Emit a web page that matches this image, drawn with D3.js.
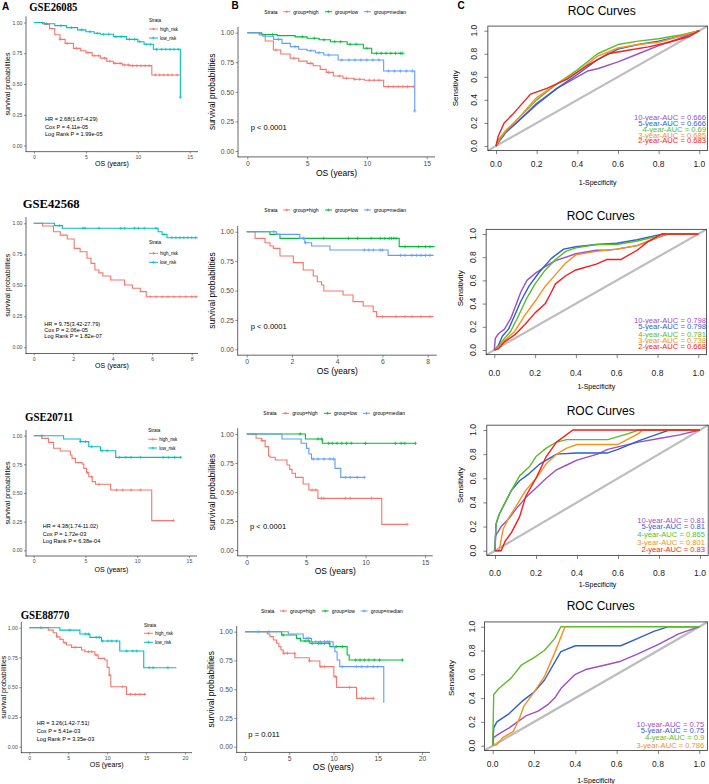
<!DOCTYPE html>
<html><head><meta charset="utf-8">
<script src="https://cdn.jsdelivr.net/npm/d3@7"></script>
<style>body{margin:0;background:#fff}svg{display:block}</style>
</head><body>
<svg id="c" width="709" height="784"></svg>
<script>
// ---------------- DATA ----------------
const datasets = ["GSE26085","GSE42568","GSE20711","GSE88770"];
const yTickVals = [0,0.25,0.5,0.75,1];
const rocTickVals = [0,0.2,0.4,0.6,0.8,1];
const xTicks26085 = [0,5,10,15];
const xTicks42568 = [0,2,4,6,8];
const xTicks20711 = [0,5,10,15];
const xTicks88770 = [0,5,10,15,20];
const riskLabels = ["high_risk","low_risk"];
const groupLabels = ["group=high","group=low","group=median"];
const hrTexts = [
 ["HR = 2.68(1.67-4.29)","Cox P = 4.11e-05","Log Rank P = 1.99e-05"],
 ["HR = 9.75(3.42-27.79)","Cox P = 2.06e-05","Log Rank P = 1.82e-07"],
 ["HR = 4.38(1.74-11.02)","Cox P = 1.72e-03","Log Rank P = 6.38e-04"],
 ["HR = 3.26(1.42-7.51)","Cox P = 5.41e-03","Log Rank P = 3.35e-03"]];
const pTexts = ["p < 0.0001","p < 0.0001","p < 0.0001","p = 0.011"];
const aucLabels = [
 ["10-year-AUC = 0.666","5-year-AUC = 0.666","4-year-AUC = 0.69","3-year-AUC = 0.685","2-year-AUC = 0.683"],
 ["10-year-AUC = 0.798","5-year-AUC = 0.798","4-year-AUC = 0.781","3-year-AUC = 0.738","2-year-AUC = 0.668"],
 ["10-year-AUC = 0.81","5-year-AUC = 0.81","4-year-AUC = 0.865","3-year-AUC = 0.801","2-year-AUC = 0.83"],
 ["10-year-AUC = 0.75","5-year-AUC = 0.75","4-year-AUC = 0.9","3-year-AUC = 0.786"]];

// KM step events [time, survival after event]; censor times
const r26085_high = [[1.0,0.985],[1.5,0.95],[2.0,0.9],[2.5,0.863],[3.0,0.83],[3.8,0.79],[4.5,0.77],[5.0,0.755],[5.6,0.73],[6.4,0.71],[7.0,0.685],[7.65,0.668],[8.5,0.655],[9.26,0.649],[11.35,0.573],[14.0,0.573]];
const r26085_high_c = [2.5,3.2,4.1,5.2,5.8,6.2,6.8,7.3,7.8,8.3,8.7,9.1,9.5,9.9,10.3,10.7,11.1,11.7,12.1,12.5,12.9,13.3,13.8];
const r26085_low = [[0.8,0.99],[2.0,0.975],[3.15,0.958],[4.2,0.94],[5.0,0.925],[5.8,0.912],[6.4,0.904],[7.65,0.885],[8.9,0.863],[10.0,0.844],[10.6,0.823],[11.5,0.782],[14.1,0.392]];
const r26085_low_c = [1.2,2.6,3.6,4.6,5.4,6.1,6.7,7.2,7.9,8.4,9.2,9.7,10.2,10.8,11.2,11.8,12.3,12.7,13.1,13.5,13.9,14.1];
const g26085_high = [[1.0,0.98],[1.5,0.93],[2.18,0.854],[2.8,0.82],[3.58,0.784],[4.3,0.76],[5.0,0.741],[5.5,0.72],[6.1,0.69],[6.6,0.665],[7.2,0.634],[8.0,0.615],[8.9,0.606],[9.8,0.598],[11.4,0.544],[13.9,0.544]];
const g26085_high_c = [2.4,3.9,5.3,6.8,7.7,8.3,9.0,9.4,10.2,10.6,11.0,11.8,12.2,12.6,13.0,13.4,13.9];
const g26085_low = [[1.2,0.985],[2.5,0.975],[4.0,0.965],[5.0,0.953],[6.0,0.94],[6.95,0.924],[8.35,0.902],[9.7,0.868],[10.4,0.826],[13.0,0.826]];
const g26085_low_c = [2.1,4.6,5.6,6.4,7.3,7.8,8.6,9.1,10.0,10.8,11.2,11.6,12.0,12.4,12.8,13.0];
const g26085_med = [[1.0,0.99],[1.3,0.97],[2.2,0.944],[2.9,0.91],[3.6,0.882],[4.3,0.86],[5.0,0.848],[5.7,0.83],[6.4,0.811],[7.6,0.769],[11.4,0.676],[14.0,0.338]];
const g26085_med_c = [2.6,4.0,5.3,6.0,6.8,7.9,8.5,9.0,9.5,10.0,10.5,11.0,11.8,12.3,12.8,13.3,13.8,14.0];

const r42568_high = [[0.45,0.978],[1.0,0.932],[1.35,0.905],[1.7,0.873],[2.05,0.798],[2.35,0.771],[2.7,0.718],[2.9,0.677],[3.1,0.623],[3.3,0.6],[3.5,0.575],[3.9,0.543],[4.6,0.502],[5.0,0.476],[5.4,0.449],[5.7,0.408],[8.3,0.408]];
const r42568_high_c = [5.9,6.2,6.5,6.8,7.1,7.4,7.7,8.0,8.2];
const r42568_low = [[1.05,0.981],[1.45,0.96],[6.3,0.932],[6.5,0.91],[6.75,0.884],[8.3,0.884]];
const r42568_low_c = [1.3,2.5,2.6,3.3,4.4,4.6,5.1,5.3,5.6,6.2,6.6,7.0,7.2,7.4,7.6,7.8,8.0,8.2];
const g42568_high = [[0.37,0.943],[0.81,0.906],[1.03,0.878],[1.18,0.858],[1.47,0.793],[2.06,0.737],[2.5,0.674],[2.94,0.623],[3.12,0.575],[3.31,0.547],[3.41,0.496],[4.26,0.462],[4.7,0.405],[5.15,0.368],[5.59,0.32],[5.74,0.278],[8.26,0.278]];
const g42568_high_c = [6.0,6.6,7.0,7.3,7.7,8.1];
const g42568_low = [[1.03,0.977],[1.47,0.943],[6.74,0.873],[8.3,0.873]];
const g42568_low_c = [2.5,3.4,4.5,4.9,5.5,5.9,6.1,6.3,6.4,6.5,6.6,7.0,7.6,7.9,8.1];
const g42568_med = [[1.32,0.977],[2.35,0.943],[2.57,0.906],[2.87,0.878],[3.68,0.844],[6.25,0.799],[8.26,0.799]];
const g42568_med_c = [1.2,2.6,5.2,5.4,5.6,5.9,6.0,6.8,7.0,7.3,7.5,7.7,7.9,8.1];

const r20711_high = [[0.78,0.977],[1.43,0.942],[1.92,0.89],[2.56,0.866],[3.54,0.831],[3.7,0.802],[4.03,0.765],[4.68,0.753],[4.84,0.715],[5.1,0.677],[5.32,0.642],[5.65,0.599],[5.97,0.576],[7.43,0.526],[11.4,0.259],[13.5,0.259]];
const r20711_high_c = [5.2,5.6,6.3,8.0,8.6,9.4,10.3,13.5];
const r20711_low = [[2.89,0.971],[4.5,0.948],[5.32,0.904],[6.46,0.869],[7.92,0.811],[14.25,0.811]];
const r20711_low_c = [0.8,4.5,5.0,5.6,6.6,7.1,8.3,8.9,9.4,10.3,12.5,13.0,13.6,14.2];
const g20711_high = [[0.79,0.963],[1.27,0.943],[1.55,0.891],[1.84,0.81],[1.98,0.799],[2.4,0.776],[3.39,0.733],[3.62,0.695],[3.81,0.661],[4.1,0.626],[4.75,0.569],[5.23,0.517],[5.99,0.445],[11.36,0.221],[13.5,0.221]];
const g20711_high_c = [1.3,5.5,5.8,6.3,6.5,8.3,8.7,10.5,13.5];
const g20711_low = [[4.94,0.957],[6.36,0.92],[14.2,0.92]];
const g20711_low_c = [4.5,6.0,6.3,6.9,7.2,7.6,8.0,8.4,8.8,10.0,12.5,13.0,13.3,14.2];
const g20711_med = [[2.97,0.957],[4.58,0.92],[5.03,0.876],[5.23,0.828],[5.45,0.784],[7.43,0.704],[7.91,0.626],[9.9,0.626]];
const g20711_med_c = [5.6,6.0,6.5,7.0,7.3,8.3,8.7,9.3,9.9];

const r88770_high = [[2.44,0.98],[3.08,0.958],[3.5,0.924],[3.93,0.902],[4.36,0.874],[4.79,0.854],[5.43,0.835],[6.71,0.812],[7.14,0.798],[8.42,0.77],[8.85,0.742],[9.7,0.728],[10.0,0.667],[10.26,0.602],[10.47,0.504],[12.48,0.44],[15.0,0.44]];
const r88770_high_c = [3.6,4.6,5.9,7.6,8.0,8.6,10.3,12.0,13.0,13.6,14.2,14.8];
const r88770_low = [[3.93,0.98],[6.5,0.947],[7.78,0.919],[9.27,0.888],[11.62,0.804],[14.7,0.664],[18.9,0.664]];
const r88770_low_c = [1.5,5.2,7.2,7.6,8.6,9.0,9.4,10.1,10.6,11.2,12.5,13.3,13.8,15.4,15.9,17.8];
const g88770_high = [[2.52,0.98],[2.82,0.957],[3.2,0.928],[3.57,0.899],[3.83,0.87],[4.06,0.841],[4.32,0.812],[5.64,0.774],[7.26,0.745],[8.46,0.696],[10.04,0.609],[10.34,0.516],[12.6,0.42],[14.5,0.42]];
const g88770_high_c = [4.4,4.8,5.6,7.3,8.6,9.0,10.2,11.8,13.2,13.6,14.5];
const g88770_low = [[4.14,0.971],[5.83,0.942],[6.28,0.919],[7.33,0.899],[9.59,0.87],[11.54,0.797],[11.77,0.754],[17.86,0.754]];
const g88770_low_c = [4.3,6.8,7.2,7.6,8.3,8.6,9.0,9.5,10.3,11.0,12.5,13.0,13.5,14.0,14.6,15.2,17.8];
const g88770_med = [[4.89,0.98],[6.58,0.942],[7.52,0.913],[9.96,0.87],[10.15,0.826],[10.41,0.754],[10.71,0.696],[15.68,0.383]];
const g88770_med_c = [1.5,2.7,7.0,7.2,8.0,8.5,9.0,9.3,9.5,11.0,12.6,13.2,13.8,14.5,15.0];

// ROC curves [FPR, TPR]
const roc26085_10 = [[0,0],[0.01,0.05],[0.05,0.13],[0.1,0.2],[0.2,0.37],[0.3,0.5],[0.4,0.6],[0.45,0.65],[0.5,0.67],[0.6,0.73],[0.7,0.8],[0.8,0.87],[0.9,0.93],[1,1]];
const roc26085_5 = [[0,0],[0.02,0.05],[0.05,0.12],[0.1,0.2],[0.2,0.36],[0.3,0.5],[0.4,0.62],[0.5,0.75],[0.6,0.84],[0.7,0.88],[0.8,0.91],[0.9,0.95],[1,1]];
const roc26085_4 = [[0,0],[0.02,0.06],[0.05,0.13],[0.1,0.22],[0.2,0.4],[0.3,0.54],[0.4,0.66],[0.5,0.8],[0.6,0.88],[0.7,0.91],[0.8,0.93],[0.9,0.96],[1,1]];
const roc26085_3 = [[0,0],[0.02,0.07],[0.05,0.14],[0.1,0.22],[0.2,0.42],[0.3,0.54],[0.4,0.64],[0.5,0.78],[0.6,0.85],[0.7,0.88],[0.8,0.9],[0.9,0.95],[1,1]];
const roc26085_2 = [[0,0],[0.01,0.08],[0.04,0.2],[0.08,0.27],[0.12,0.35],[0.17,0.45],[0.25,0.5],[0.35,0.58],[0.45,0.7],[0.55,0.8],[0.65,0.83],[0.75,0.86],[0.85,0.9],[0.95,0.95],[1,1]];

const roc42568_10 = [[0,0],[0.005,0.1],[0.02,0.14],[0.05,0.18],[0.08,0.27],[0.1,0.36],[0.13,0.5],[0.16,0.6],[0.2,0.66],[0.25,0.72],[0.3,0.77],[0.4,0.83],[0.5,0.86],[0.55,0.86],[0.6,0.87],[0.7,0.9],[0.8,0.97],[0.85,1],[1,1]];
const roc42568_5 = [[0,0],[0.02,0.04],[0.04,0.12],[0.07,0.18],[0.1,0.3],[0.13,0.42],[0.17,0.55],[0.22,0.67],[0.28,0.79],[0.34,0.87],[0.4,0.89],[0.5,0.91],[0.6,0.92],[0.7,0.95],[0.8,0.99],[0.83,1],[1,1]];
const roc42568_4 = [[0,0],[0.02,0.03],[0.05,0.1],[0.08,0.16],[0.12,0.3],[0.16,0.45],[0.2,0.57],[0.25,0.69],[0.3,0.78],[0.35,0.85],[0.4,0.88],[0.5,0.91],[0.6,0.91],[0.7,0.94],[0.8,0.98],[0.84,1],[1,1]];
const roc42568_3 = [[0,0],[0.02,0.02],[0.05,0.08],[0.1,0.16],[0.15,0.3],[0.2,0.42],[0.25,0.55],[0.3,0.65],[0.35,0.75],[0.4,0.82],[0.5,0.85],[0.6,0.87],[0.7,0.9],[0.8,0.97],[0.84,1],[1,1]];
const roc42568_2 = [[0,0],[0.02,0.01],[0.05,0.07],[0.1,0.13],[0.15,0.22],[0.2,0.32],[0.25,0.4],[0.28,0.5],[0.3,0.57],[0.35,0.64],[0.4,0.69],[0.5,0.74],[0.55,0.78],[0.62,0.78],[0.7,0.86],[0.75,0.93],[0.82,1],[1,1]];

const roc20711_10 = [[0,0],[0.002,0.12],[0.03,0.2],[0.07,0.27],[0.1,0.34],[0.15,0.44],[0.2,0.52],[0.25,0.6],[0.3,0.67],[0.35,0.71],[0.4,0.75],[0.5,0.8],[0.55,0.84],[0.6,0.86],[0.7,0.9],[0.8,0.93],[0.9,0.96],[1,1]];
const roc20711_5 = [[0,0],[0.005,0.22],[0.02,0.3],[0.05,0.4],[0.08,0.5],[0.12,0.58],[0.16,0.63],[0.22,0.72],[0.3,0.8],[0.4,0.81],[0.55,0.81],[0.6,0.84],[0.7,0.91],[0.8,0.97],[0.85,1],[1,1]];
const roc20711_4 = [[0,0],[0.005,0.22],[0.02,0.3],[0.05,0.4],[0.08,0.5],[0.12,0.62],[0.17,0.7],[0.2,0.78],[0.25,0.85],[0.3,0.9],[0.35,0.92],[0.55,0.92],[0.65,0.97],[0.7,1],[1,1]];
const roc20711_3 = [[0,0],[0.02,0],[0.04,0.18],[0.07,0.28],[0.1,0.36],[0.15,0.5],[0.2,0.6],[0.25,0.72],[0.3,0.8],[0.35,0.85],[0.4,0.88],[0.6,0.88],[0.7,0.97],[0.72,1],[1,1]];
const roc20711_2 = [[0,0],[0.03,0],[0.05,0.08],[0.08,0.15],[0.12,0.28],[0.15,0.45],[0.2,0.6],[0.25,0.78],[0.3,0.9],[0.38,1],[1,1]];

const roc88770_10 = [[0,0],[0.005,0.07],[0.04,0.11],[0.08,0.15],[0.12,0.2],[0.16,0.25],[0.22,0.29],[0.27,0.35],[0.3,0.4],[0.33,0.48],[0.37,0.55],[0.4,0.6],[0.45,0.64],[0.55,0.68],[0.62,0.71],[0.7,0.77],[0.8,0.85],[0.9,0.94],[1,1]];
const roc88770_5 = [[0,0],[0.005,0.15],[0.02,0.2],[0.08,0.27],[0.14,0.37],[0.2,0.45],[0.25,0.55],[0.3,0.7],[0.33,0.79],[0.4,0.84],[0.62,0.84],[0.7,0.9],[0.78,0.96],[0.85,1],[1,1]];
const roc88770_4 = [[0,0],[0.005,0.43],[0.03,0.48],[0.09,0.57],[0.14,0.68],[0.2,0.74],[0.25,0.8],[0.3,0.9],[0.33,1],[1,1]];
const roc88770_3 = [[0,0],[0.02,0.01],[0.05,0.07],[0.1,0.12],[0.13,0.23],[0.15,0.33],[0.2,0.45],[0.25,0.58],[0.3,0.78],[0.35,1]];

// ---------------- STYLE / LAYOUT ----------------
const SANS = "'Liberation Sans', Arial, Helvetica, sans-serif";
const SERIF = "'Liberation Serif', 'Times New Roman', serif";
const riskColors = ["#F8766D","#00BFC4"];
const groupColors = ["#F8766D","#00BA38","#619CFF"];
const rocColors = ["#9A4FC9","#2D5FCF","#5DBB2A","#F7901E","#F51C1C"];

const svg = d3.select("#c");

function plusPath(x,y,h){return `M${x-h},${y}H${x+h}M${x},${y-h}V${y+h}`;}
function survAt(ev,t){let s=1;for(const [et,es] of ev){if(et<=t+1e-9)s=es;else break;}return s;}

function drawKM(L, curves, colors){
  const g = svg.append("g");
  const x = d3.scaleLinear().domain(L.xd).range(L.xr);
  const y = d3.scaleLinear().domain([0,1]).range([L.y0,L.y1]);
  const ext = 0.05*(L.y0-L.y1);
  const axT = L.y1-ext, axB = L.y0+ext;
  const yg = g.append("g").attr("transform",`translate(${L.axL},0)`)
    .call(d3.axisLeft(y).tickValues(yTickVals).tickFormat(d3.format(".2f")).tickSize(L.tl).tickPadding(L.tp));
  yg.select(".domain").remove();
  yg.selectAll("line").attr("stroke","#333").attr("stroke-width",0.5);
  yg.selectAll("text").attr("font-family",SANS).attr("font-size",L.tf).attr("fill","#4d4d4d");
  const xg = g.append("g").attr("transform",`translate(0,${axB})`)
    .call(d3.axisBottom(x).tickValues(L.xt).tickFormat(d3.format("d")).tickSize(L.tl).tickPadding(L.tp));
  xg.select(".domain").remove();
  xg.selectAll("line").attr("stroke","#333").attr("stroke-width",0.5);
  xg.selectAll("text").attr("font-family",SANS).attr("font-size",L.tf).attr("fill","#4d4d4d");
  g.append("line").attr("x1",L.axL).attr("x2",L.axL).attr("y1",axT).attr("y2",axB+0.3).attr("stroke","#000").attr("stroke-width",0.6);
  g.append("line").attr("x1",L.axL-0.3).attr("x2",L.axR).attr("y1",axB).attr("y2",axB).attr("stroke","#000").attr("stroke-width",0.6);
  g.append("text").attr("x",(L.axL+L.axR)/2).attr("y",L.xlY).attr("text-anchor","middle").attr("dominant-baseline","central")
    .attr("font-family",SANS).attr("font-size",L.lf).attr("fill","#000").text("OS (years)");
  g.append("text").attr("transform",`translate(${L.ylX},${(axT+axB)/2}) rotate(-90)`).attr("text-anchor","middle").attr("dominant-baseline","central")
    .attr("font-family",SANS).attr("font-size",L.lf).attr("fill","#000").text("survival probabilities");
  const line = d3.line().x(d=>x(d[0])).y(d=>y(d[1])).curve(d3.curveStepAfter);
  curves.forEach((c,i)=>{
    g.append("path").attr("d",line([[0,1],...c.ev])).attr("fill","none").attr("stroke",colors[i]).attr("stroke-width",L.lw);
    g.append("path").attr("d",c.cens.map(t=>plusPath(x(t),y(survAt(c.ev,t)),L.ch)).join(""))
      .attr("fill","none").attr("stroke",colors[i]).attr("stroke-width",0.7);
  });
  return g;
}

function drawROC(L, curves, labels){
  const g = svg.append("g");
  const x = d3.scaleLinear().domain([0,1]).range([L.x0,L.x1]);
  const y = d3.scaleLinear().domain([0,1]).range([L.y0,L.y1]);
  const bl = x(-0.04), br = x(1.04), bt = y(1.04), bb = y(-0.04);
  g.append("line").attr("x1",bl).attr("y1",bb).attr("x2",br).attr("y2",bt).attr("stroke","#BDBDBD").attr("stroke-width",2.2);
  const line = d3.line().x(d=>x(d[0])).y(d=>y(d[1]));
  curves.forEach((c,i)=>{
    g.append("path").attr("d",line(c)).attr("fill","none").attr("stroke",rocColors[i]).attr("stroke-width",1.4).attr("stroke-linejoin","round");
  });
  g.append("rect").attr("x",bl).attr("y",bt).attr("width",br-bl).attr("height",bb-bt).attr("fill","none").attr("stroke","#333").attr("stroke-width",0.8);
  const xg = g.append("g").attr("transform",`translate(0,${bb})`)
    .call(d3.axisBottom(x).tickValues(rocTickVals).tickSize(3.5));
  xg.select(".domain").remove();
  xg.selectAll("line").attr("stroke","#333").attr("stroke-width",0.6);
  xg.selectAll("text").remove();
  g.selectAll(".xl").data(rocTickVals).enter().append("text").attr("x",d=>x(d)).attr("y",L.tlY)
    .attr("text-anchor","middle").attr("dominant-baseline","central").attr("font-family",SANS).attr("font-size",8.5).attr("fill","#222").text(d3.format(".1f"));
  const yg = g.append("g").attr("transform",`translate(${bl},0)`)
    .call(d3.axisLeft(y).tickValues(rocTickVals).tickSize(3.5));
  yg.select(".domain").remove();
  yg.selectAll("line").attr("stroke","#333").attr("stroke-width",0.6);
  yg.selectAll("text").remove();
  g.selectAll(".yl").data(rocTickVals).enter().append("text")
    .attr("transform",d=>`translate(${L.tlX},${y(d)}) rotate(-90)`)
    .attr("text-anchor","middle").attr("dominant-baseline","central").attr("font-family",SANS).attr("font-size",8.5).attr("fill","#222").text(d3.format(".1f"));
  g.append("text").attr("x",L.tX).attr("y",L.tY).attr("text-anchor","middle").attr("dominant-baseline","central")
    .attr("font-family",SANS).attr("font-size",12).attr("fill","#000").text("ROC Curves");
  g.append("text").attr("x",(bl+br)/2).attr("y",L.xlY).attr("text-anchor","middle").attr("dominant-baseline","central")
    .attr("font-family",SANS).attr("font-size",7).attr("fill","#000").text("1-Specificity");
  g.append("text").attr("transform",`translate(${L.ylX},${L.ylY}) rotate(-90)`).attr("text-anchor","middle").attr("dominant-baseline","central")
    .attr("font-family",SANS).attr("font-size",8).attr("fill","#000").text("Sensitivity");
  labels.forEach((t,i)=>{
    g.append("text").attr("x",L.lgR).attr("y",L.lgY[i]).attr("text-anchor","end").attr("dominant-baseline","central")
      .attr("font-family",SANS).attr("font-size",7.6).attr("fill",rocColors[i]).text(t);
  });
}

function riskLegend(lx, ly, ys){
  svg.append("text").attr("x",lx).attr("y",ly).attr("dominant-baseline","central").attr("font-family",SANS).attr("font-size",4.5).attr("fill","#000").text("Strata");
  riskLabels.forEach((t,i)=>{
    svg.append("line").attr("x1",lx).attr("x2",lx+9).attr("y1",ys[i]).attr("y2",ys[i]).attr("stroke",riskColors[i]).attr("stroke-width",1);
    svg.append("path").attr("d",plusPath(lx+4.5,ys[i],1.4)).attr("stroke",riskColors[i]).attr("stroke-width",0.7);
    svg.append("text").attr("x",lx+11).attr("y",ys[i]).attr("dominant-baseline","central").attr("font-family",SANS).attr("font-size",4.5).attr("fill","#000").text(t);
  });
}
function groupLegend(lx, ly){
  svg.append("text").attr("x",lx).attr("y",ly).attr("dominant-baseline","central").attr("font-family",SANS).attr("font-size",5).attr("fill","#000").text("Strata");
  const offs = [19, 60.7, 99.7];
  groupLabels.forEach((t,i)=>{
    const x0 = lx+offs[i];
    svg.append("line").attr("x1",x0).attr("x2",x0+7).attr("y1",ly).attr("y2",ly).attr("stroke",groupColors[i]).attr("stroke-width",1);
    svg.append("path").attr("d",plusPath(x0+3.5,ly,1.4)).attr("stroke",groupColors[i]).attr("stroke-width",0.7);
    svg.append("text").attr("x",x0+10).attr("y",ly).attr("dominant-baseline","central").attr("font-family",SANS).attr("font-size",5).attr("fill","#000").text(t);
  });
}
function hrBlock(x, ys, lines){
  lines.forEach((t,i)=>svg.append("text").attr("x",x).attr("y",ys[i]).attr("dominant-baseline","central")
    .attr("font-family",SANS).attr("font-size",5.6).attr("fill","#000").text(t));
}
function title(x, y, w, t){
  svg.append("text").attr("x",x).attr("y",y).attr("font-family",SERIF).attr("font-weight","bold").attr("font-size",12)
    .attr("textLength",w).attr("lengthAdjust","spacingAndGlyphs").attr("fill","#000").text(t);
}

[["A",2,10],["B",231.5,8.6],["C",457.5,8.6]].forEach(([t,x,y])=>svg.append("text").attr("x",x).attr("y",y)
  .attr("font-family",SANS).attr("font-weight","bold").attr("font-size",10).text(t));

// ---------- Column A ----------
const Abase = {tl:2, tp:1.5, tf:5.2, lf:7, lw:1.1, ch:1.5};
drawKM({...Abase, xd:[0,15], xr:[34,189.7], y0:145.5, y1:22.5, axL:26, axR:198, xt:xTicks26085, xlY:163.5, ylX:7},
  [{ev:r26085_high,cens:r26085_high_c},{ev:r26085_low,cens:r26085_low_c}], riskColors);
drawKM({...Abase, xd:[0,8], xr:[33.7,191.7], y0:347.3, y1:223.3, axL:26, axR:198, xt:xTicks42568, xlY:365, ylX:7},
  [{ev:r42568_high,cens:r42568_high_c},{ev:r42568_low,cens:r42568_low_c}], riskColors);
drawKM({...Abase, xd:[0,15], xr:[33.7,189], y0:550.3, y1:435.7, axL:26, axR:197, xt:xTicks20711, xlY:569, ylX:7},
  [{ev:r20711_high,cens:r20711_high_c},{ev:r20711_low,cens:r20711_low_c}], riskColors);
drawKM({...Abase, xd:[0,20], xr:[29.3,185], y0:746.7, y1:627.7, axL:21.3, axR:192, xt:xTicks88770, xlY:764.3, ylX:3},
  [{ev:r88770_high,cens:r88770_high_c},{ev:r88770_low,cens:r88770_low_c}], riskColors);

title(29.3,10.7,48,datasets[0]);
title(22.7,208.3,57,datasets[1]);
title(25,420.7,48.3,datasets[2]);
title(20.7,619.3,48.6,datasets[3]);

riskLegend(149,20,[29,38]);
riskLegend(149,242.7,[253.3,262.3]);
riskLegend(148.3,430.7,[439.3,448]);
riskLegend(144,625,[633.3,642.3]);

hrBlock(45,[119,126.7,134],hrTexts[0]);
hrBlock(44.3,[324,330.2,336.4],hrTexts[1]);
hrBlock(42.7,[525.7,533.5,541.3],hrTexts[2]);
hrBlock(36.7,[723.3,731,738.7],hrTexts[3]);

// ---------- Column B ----------
const Bbase = {tl:2.5, tp:1.5, tf:6.8, lf:8.5, lw:1.1, ch:1.7};
drawKM({...Bbase, xd:[0,15], xr:[247.3,426.7], y0:151, y1:32.7, axL:238, axR:435, xt:xTicks26085, xlY:172.7, ylX:212},
  [{ev:g26085_high,cens:g26085_high_c},{ev:g26085_low,cens:g26085_low_c},{ev:g26085_med,cens:g26085_med_c}], groupColors);
drawKM({...Bbase, xd:[0,8], xr:[246.7,427.7], y0:349.3, y1:231.7, axL:237.7, axR:436.7, xt:xTicks42568, xlY:370.7, ylX:212},
  [{ev:g42568_high,cens:g42568_high_c},{ev:g42568_low,cens:g42568_low_c},{ev:g42568_med,cens:g42568_med_c}], groupColors);
drawKM({...Bbase, xd:[0,15], xr:[246.7,425], y0:550, y1:434, axL:237.7, axR:432.7, xt:xTicks20711, xlY:570.7, ylX:212},
  [{ev:g20711_high,cens:g20711_high_c},{ev:g20711_low,cens:g20711_low_c},{ev:g20711_med,cens:g20711_med_c}], groupColors);
drawKM({...Bbase, xd:[0,20], xr:[245,422], y0:746.7, y1:631.7, axL:236.7, axR:430, xt:xTicks88770, xlY:766.7, ylX:211},
  [{ev:g88770_high,cens:g88770_high_c},{ev:g88770_low,cens:g88770_low_c},{ev:g88770_med,cens:g88770_med_c}], groupColors);

groupLegend(264.3,11.7);
groupLegend(264.3,210);
groupLegend(263.3,413.3);
groupLegend(261,611);

[[250.7,127.7],[250.7,326.7],[250,526.7],[248.3,734.3]].forEach(([x,y],i)=>svg.append("text").attr("x",x).attr("y",y)
  .attr("dominant-baseline","central").attr("font-family",SANS).attr("font-size",7.6).attr("fill","#000").text(pTexts[i]));

// ---------- Column C ----------
drawROC({x0:496,x1:699.3,y0:146,y1:30.7,tX:601.7,tY:10.7,tlY:164.3,xlY:182.7,ylX:455,ylY:88.3,tlX:474,lgR:706,lgY:[117.3,123.3,129.3,135,140.3]},
  [roc26085_10,roc26085_5,roc26085_4,roc26085_3,roc26085_2], aucLabels[0]);
drawROC({x0:494.3,x1:698.3,y0:350,y1:234,tX:600.7,tY:216,tlY:372.7,xlY:386,ylX:460,ylY:288.3,tlX:473.3,lgR:706,lgY:[320,326.7,334,340.7,346.7]},
  [roc42568_10,roc42568_5,roc42568_4,roc42568_3,roc42568_2], aucLabels[1]);
drawROC({x0:495,x1:700,y0:550.7,y1:430,tX:600.7,tY:410.7,tlY:572.7,xlY:584,ylX:460,ylY:485,tlX:473,lgR:705,lgY:[520.7,526.7,534,542.7,549.3]},
  [roc20711_10,roc20711_5,roc20711_4,roc20711_3,roc20711_2], aucLabels[2]);
drawROC({x0:492.7,x1:699.3,y0:745.7,y1:626.7,tX:600.7,tY:606,tlY:764,xlY:780,ylX:451.7,ylY:678,tlX:471.7,lgR:704.3,lgY:[724,730.7,737.3,745]},
  [roc88770_10,roc88770_5,roc88770_4,roc88770_3], aucLabels[3]);
</script>
</body></html>
